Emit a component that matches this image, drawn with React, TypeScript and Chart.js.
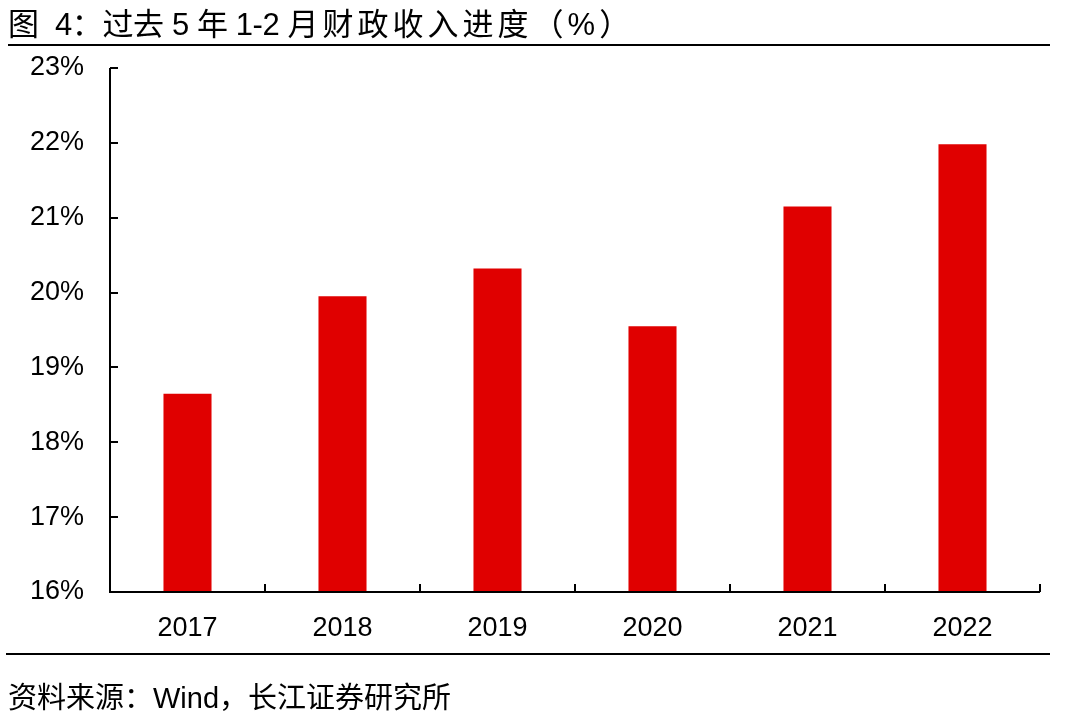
import React, { useEffect, useRef } from "react";
import { Chart, registerables } from "chart.js";

Chart.register(...registerables);

const categories = ["2017", "2018", "2019", "2020", "2021", "2022"];
const revenueProgress = [18.65, 19.95, 20.32, 19.55, 21.15, 21.98];
const yMin = 16;
const yMax = 23;

const FONT = '"Liberation Sans", "Noto Sans CJK SC", Arial, sans-serif';

const axisPlugin = {
  id: "axisPlugin",
  afterDatasetsDraw(chart: any) {
    const { ctx, chartArea, scales } = chart;
    const y = scales.y;
    ctx.save();
    ctx.strokeStyle = "#000";
    ctx.lineWidth = 2;
    ctx.beginPath();
    ctx.moveTo(chartArea.left, chartArea.top);
    ctx.lineTo(chartArea.left, chartArea.bottom);
    ctx.lineTo(chartArea.right, chartArea.bottom);
    ctx.stroke();
    y.ticks.forEach((t: any) => {
      const py = Math.round(y.getPixelForValue(t.value));
      ctx.beginPath();
      ctx.moveTo(chartArea.left, py);
      ctx.lineTo(chartArea.left + 8, py);
      ctx.stroke();
    });
    const n = categories.length;
    const step = (chartArea.right - chartArea.left) / n;
    for (let i = 1; i <= n; i++) {
      const px = Math.round(chartArea.left + step * i);
      ctx.beginPath();
      ctx.moveTo(px, chartArea.bottom);
      ctx.lineTo(px, chartArea.bottom - 8);
      ctx.stroke();
    }
    ctx.restore();
  },
};

export default function App() {
  const ref = useRef<HTMLCanvasElement | null>(null);
  useEffect(() => {
    if (!ref.current) return;
    const chart = new Chart(ref.current, {
      type: "bar",
      data: {
        labels: categories,
        datasets: [
          {
            data: revenueProgress,
            backgroundColor: "#E00000",
            barPercentage: 0.31,
            categoryPercentage: 1,
          },
        ],
      },
      options: {
        animation: false,
        responsive: false,
        maintainAspectRatio: false,
        layout: { padding: { top: 68, right: 25, left: 0, bottom: 0 } },
        plugins: { legend: { display: false }, tooltip: { enabled: false } },
        scales: {
          x: {
            grid: { display: false, drawTicks: false },
            border: { display: false },
            ticks: {
              color: "#000",
              font: { family: FONT, size: 27 },
              padding: 20,
            },
            afterFit(s: any) {
              s.height = 130;
            },
          },
          y: {
            min: yMin,
            max: yMax,
            grid: { display: false, drawTicks: false },
            border: { display: false },
            ticks: {
              stepSize: 1,
              color: "#000",
              font: { family: FONT, size: 27 },
              padding: 26,
              callback: (v: any) => `${v}%`,
            },
            afterFit(s: any) {
              s.width = 110;
            },
          },
        },
      },
      plugins: [axisPlugin],
    });
    return () => chart.destroy();
  }, []);

  return (
    <div style={{ position: "absolute", left: 0, top: 0, width: 1065, height: 722, background: "#fff", fontFamily: FONT }}>
      <canvas ref={ref} width={1065} height={722} style={{ position: "absolute", left: 0, top: 0, width: 1065, height: 722 }} />
      <div style={{ position: "absolute", left: 8, top: 8, fontSize: 31, lineHeight: "34px", color: "#000", whiteSpace: "pre" }}>
        <span style={{ letterSpacing: "-0.4px" }}>{"图  4：过去 5 年 1-2 "}</span>
        <span style={{ letterSpacing: "4px" }}>{"月财政收入进度（%）"}</span>
      </div>
      <div style={{ position: "absolute", left: 8, top: 44, width: 1042, height: 2, background: "#000" }} />
      <div style={{ position: "absolute", left: 6, top: 653, width: 1044, height: 2, background: "#000" }} />
      <div style={{ position: "absolute", left: 8, top: 681, fontSize: 29, lineHeight: "34px", color: "#000", whiteSpace: "pre" }}>
        {"资料来源：Wind，长江证券研究所"}
      </div>
    </div>
  );
}
